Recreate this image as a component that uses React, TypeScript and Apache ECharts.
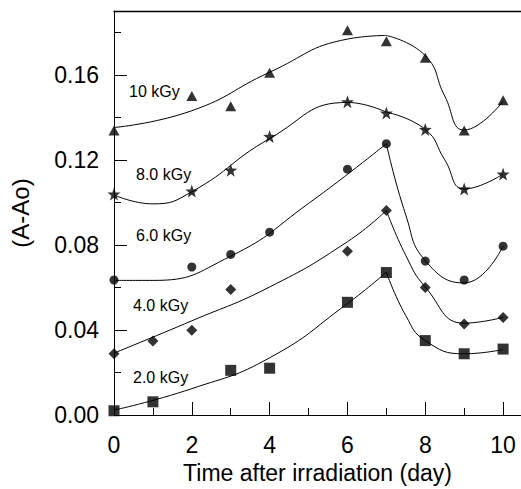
import React, { useEffect, useRef } from "react";
import * as echarts from "echarts";

// Measured data (x = day, y = A-Ao)
const dose2X = [0, 1, 3, 4, 6, 7, 8, 9, 10];
const dose2Y = [0.002, 0.0062, 0.021, 0.022, 0.053, 0.067, 0.035, 0.0288, 0.031];

const dose4X = [0, 1, 2, 3, 6, 7, 8, 9, 10];
const dose4Y = [0.0288, 0.0348, 0.0398, 0.059, 0.077, 0.0962, 0.06, 0.0428, 0.0459];

const dose6X = [0, 2, 3, 4, 6, 7, 8, 9, 10];
const dose6Y = [0.0635, 0.0696, 0.0755, 0.086, 0.1156, 0.1276, 0.0724, 0.0635, 0.0794];

const dose8X = [0, 2, 3, 4, 6, 7, 8, 9, 10];
const dose8Y = [0.1039, 0.1053, 0.1151, 0.131, 0.1473, 0.142, 0.1343, 0.1063, 0.1133];

const dose10X = [0, 2, 3, 4, 6, 7, 8, 9, 10];
const dose10Y = [0.1338, 0.15, 0.1452, 0.161, 0.181, 0.1758, 0.168, 0.1338, 0.148];

// Fitted curves (two pieces meeting at day 7)
const fit2aX = [0, 2, 4, 6, 7];
const fit2aY = [0.0023, 0.0124, 0.0269, 0.0524, 0.0672];
const fit2bX = [7, 7.5, 8, 9, 10];
const fit2bY = [0.0672, 0.0467, 0.035, 0.0288, 0.0308];

const fit4aX = [0, 2, 4, 6, 7];
const fit4aY = [0.0291, 0.0443, 0.0602, 0.0815, 0.0962];
const fit4bX = [7, 7.5, 8, 9, 10];
const fit4bY = [0.0962, 0.075, 0.0602, 0.0432, 0.0459];

const fit6aX = [0, 1, 3, 5, 7];
const fit6aY = [0.0633, 0.0633, 0.0747, 0.0995, 0.1276];
const fit6bX = [7, 7.5, 8, 9, 10];
const fit6bY = [0.1276, 0.094, 0.0726, 0.0621, 0.0794];

const fit8aX = [0, 1, 2, 4, 6, 7];
const fit8aY = [0.1035, 0.0993, 0.105, 0.13, 0.147, 0.1424];
const fit8bX = [7, 8, 8.5, 9, 10];
const fit8bY = [0.1424, 0.1343, 0.12, 0.1063, 0.1133];

const fit10aX = [0, 2, 4, 6, 7];
const fit10aY = [0.1352, 0.1431, 0.1612, 0.1768, 0.1785];
const fit10bX = [7, 8, 8.5, 9, 10];
const fit10bY = [0.1785, 0.169, 0.15, 0.134, 0.1475];

const doseLabels = ["10 kGy", "8.0 kGy", "6.0 kGy", "4.0 kGy", "2.0 kGy"];

const xTickLabels = [0, 2, 4, 6, 8, 10];
const yTickLabels = [0, 0.04, 0.08, 0.12, 0.16];

const STAR =
  "path://M0,-10 L2.35,-3.24 L9.51,-3.09 L3.8,1.24 L5.88,8.09 L0,4 L-5.88,8.09 L-3.8,1.24 L-9.51,-3.09 L-2.35,-3.24 Z";

const zip = (xs: number[], ys: number[]) => xs.map((x, i) => [x, ys[i]]);

export default function App() {
  const ref = useRef<HTMLDivElement>(null);
  useEffect(() => {
    if (!ref.current) return;
    const chart = echarts.init(ref.current, undefined, { renderer: "svg" });
    const font = "Liberation Sans, Arial, sans-serif";

    const fit = (xs: number[], ys: number[]) => ({
      type: "line",
      data: zip(xs, ys),
      showSymbol: false,
      smooth: 0.5,
      lineStyle: { color: "#000", width: 1 },
      silent: true,
      z: 2,
    });
    const pts = (xs: number[], ys: number[], symbol: string, size: any) => ({
      type: "scatter",
      data: zip(xs, ys),
      symbol,
      symbolSize: size,
      itemStyle: { color: "#000" },
      z: 3,
    });

    const labelPos = [
      [129, 91.5],
      [136, 174],
      [136, 235],
      [133, 305],
      [133, 377],
    ];

    chart.setOption({
      animation: false,
      backgroundColor: "#fff",
      textStyle: { fontFamily: font },
      grid: { left: 114, top: 11, right: 0, bottom: 71, containLabel: false },
      xAxis: [
        {
          type: "value",
          min: 0,
          max: 10.46,
          interval: 2,
          name: "Time after irradiation (day)",
          nameLocation: "middle",
          nameGap: 46,
          nameTextStyle: { fontSize: 23, color: "#000", fontFamily: font },
          axisLine: { show: true, onZero: false, lineStyle: { color: "#000", width: 1 } },
          axisTick: { show: true, inside: true, length: 13, lineStyle: { color: "#000" } },
          minorTick: { show: true, splitNumber: 2, length: 7, lineStyle: { color: "#000" } },
          splitLine: { show: false },
          minorSplitLine: { show: false },
          axisLabel: {
            fontSize: 23,
            color: "#000",
            margin: 18,
            fontFamily: font,
            showMaxLabel: false,
            formatter: (v: number) => (xTickLabels.includes(v) ? String(v) : ""),
          },
        },
        {
          type: "value",
          position: "top",
          min: 0,
          max: 10.46,
          axisLine: { show: true, onZero: false, lineStyle: { color: "#000", width: 1.3 } },
          axisTick: { show: false },
          axisLabel: { show: false },
          splitLine: { show: false },
        },
      ],
      yAxis: {
        type: "value",
        min: 0,
        max: 0.19,
        interval: 0.04,
        name: "(A-Ao)",
        nameLocation: "middle",
        nameGap: 82,
        nameTextStyle: { fontSize: 24, color: "#000", fontFamily: font },
        axisLine: { show: true, onZero: false, lineStyle: { color: "#000", width: 1 } },
        axisTick: { show: true, inside: true, length: 13, lineStyle: { color: "#000" } },
        minorTick: { show: true, splitNumber: 2, length: 7, lineStyle: { color: "#000" } },
        splitLine: { show: false },
        minorSplitLine: { show: false },
        axisLabel: {
          fontSize: 23,
          color: "#000",
          margin: 15,
          fontFamily: font,
          showMaxLabel: false,
          formatter: (v: number) =>
            yTickLabels.some((t) => Math.abs(t - v) < 1e-9) ? v.toFixed(2) : "",
        },
      },
      graphic: doseLabels.map((t, i) => ({
        type: "text",
        x: labelPos[i][0],
        y: labelPos[i][1],
        style: {
          text: t,
          fill: "#000",
          font: `16px ${font}`,
          align: "left",
          verticalAlign: "middle",
        },
        z: 10,
      })),
      series: [
        fit(fit2aX, fit2aY),
        fit(fit2bX, fit2bY),
        fit(fit4aX, fit4aY),
        fit(fit4bX, fit4bY),
        fit(fit6aX, fit6aY),
        fit(fit6bX, fit6bY),
        fit(fit8aX, fit8aY),
        fit(fit8bX, fit8bY),
        fit(fit10aX, fit10aY),
        fit(fit10bX, fit10bY),
        pts(dose2X, dose2Y, "rect", 11),
        pts(dose4X, dose4Y, "diamond", 11),
        pts(dose6X, dose6Y, "circle", 9),
        pts(dose8X, dose8Y, STAR, 13),
        pts(dose10X, dose10Y, "triangle", [11, 10]),
      ],
    });
    return () => chart.dispose();
  }, []);
  return <div ref={ref} style={{ width: 521, height: 489, position: "absolute", left: 0, top: 0 }} />;
}
